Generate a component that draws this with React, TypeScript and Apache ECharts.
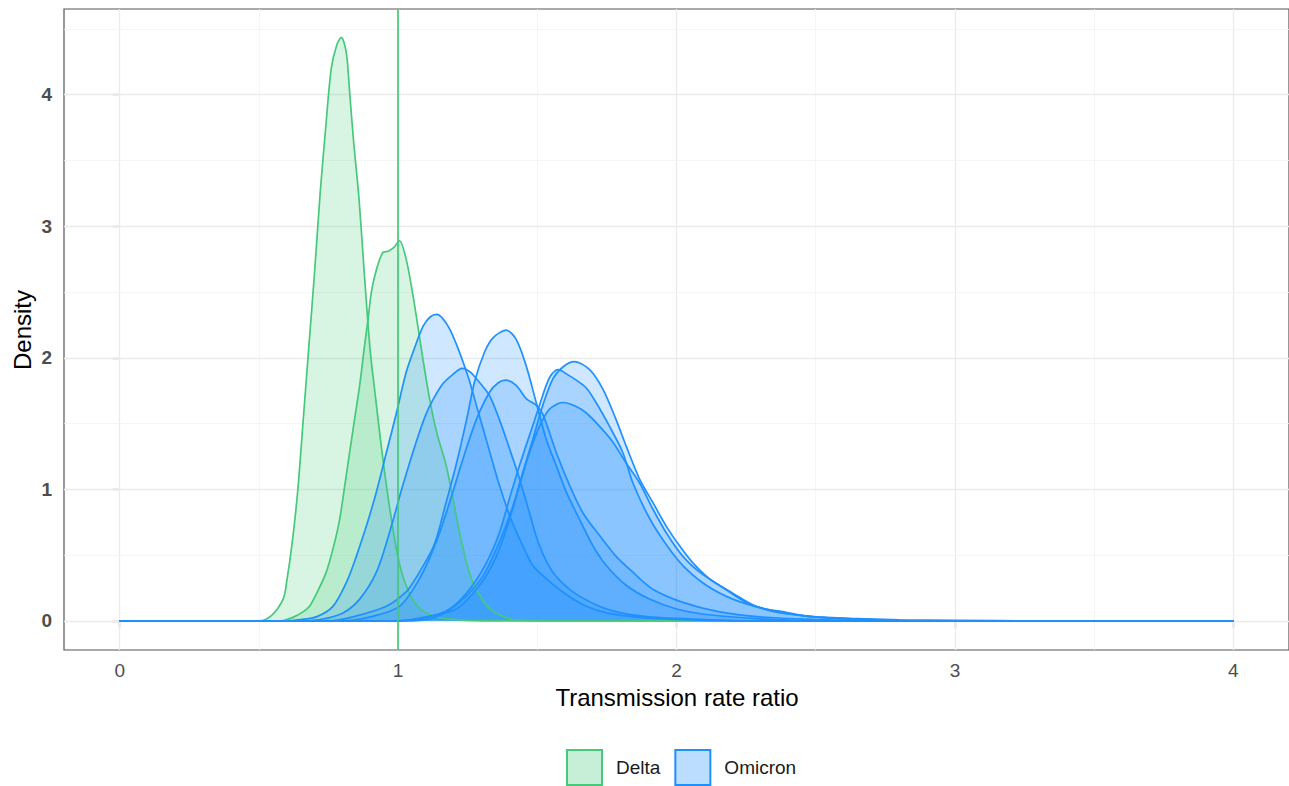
import React, { useEffect, useRef } from "react";
import * as echarts from "echarts";

// ---- data (x = transmission rate ratio, y = density) ----
const deltaA: number[][] = [
  [0, 0], [0.5, 0], [0.545, 0.04], [0.587, 0.165], [0.6, 0.3], [0.62, 0.6], [0.64, 1.0], [0.66, 1.55],
  [0.68, 2.1], [0.7, 2.65], [0.72, 3.25], [0.74, 3.75], [0.76, 4.2], [0.78, 4.38], [0.796, 4.436],
  [0.814, 4.32], [0.826, 4.02], [0.84, 3.65], [0.86, 3.2], [0.88, 2.6], [0.9, 2.05], [0.92, 1.68],
  [0.94, 1.32], [0.96, 1.0], [0.98, 0.72], [1.0, 0.48], [1.02, 0.32], [1.05, 0.17], [1.08, 0.09],
  [1.12, 0.04], [1.18, 0.015], [1.3, 0], [4, 0],
];
const deltaB: number[][] = [
  [0, 0], [0.58, 0], [0.622, 0.026], [0.66, 0.07], [0.682, 0.11], [0.71, 0.22], [0.742, 0.37],
  [0.77, 0.58], [0.79, 0.77], [0.81, 1.05], [0.826, 1.28], [0.845, 1.55], [0.862, 1.79], [0.88, 2.1],
  [0.892, 2.29], [0.904, 2.5], [0.922, 2.67], [0.945, 2.8], [0.964, 2.81], [0.985, 2.84], [1.005, 2.89],
  [1.029, 2.75], [1.053, 2.48], [1.071, 2.24], [1.09, 1.98], [1.113, 1.69], [1.14, 1.42], [1.173, 1.18],
  [1.221, 0.67], [1.245, 0.45], [1.269, 0.29], [1.3, 0.17], [1.33, 0.09], [1.37, 0.04], [1.41, 0.01],
  [1.5, 0], [4, 0],
];
const omicron1: number[][] = [
  [0, 0], [0.6, 0], [0.65, 0.01], [0.706, 0.03], [0.766, 0.11], [0.814, 0.29], [0.85, 0.49], [0.886, 0.72],
  [0.922, 0.98], [0.958, 1.28], [0.994, 1.58], [1.029, 1.89], [1.06, 2.08], [1.09, 2.24], [1.115, 2.31],
  [1.139, 2.33], [1.16, 2.3], [1.185, 2.22], [1.21, 2.1], [1.233, 1.97], [1.257, 1.82], [1.281, 1.64],
  [1.323, 1.33], [1.364, 1.03], [1.406, 0.77], [1.448, 0.57], [1.484, 0.42], [1.532, 0.32], [1.604, 0.2],
  [1.676, 0.11], [1.75, 0.06], [1.85, 0.03], [2.0, 0.01], [2.2, 0], [4, 0],
];
const omicron2: number[][] = [
  [0, 0], [0.65, 0], [0.72, 0.01], [0.802, 0.06], [0.862, 0.165], [0.922, 0.37], [0.969, 0.67],
  [1.017, 1.03], [1.065, 1.36], [1.1, 1.57], [1.125, 1.68], [1.16, 1.8], [1.195, 1.87], [1.23, 1.92],
  [1.26, 1.89], [1.281, 1.84], [1.305, 1.78], [1.329, 1.71], [1.364, 1.53], [1.4, 1.31], [1.436, 1.08],
  [1.472, 0.82], [1.508, 0.57], [1.556, 0.37], [1.628, 0.22], [1.723, 0.11], [1.8, 0.06], [1.9, 0.03],
  [2.1, 0.01], [2.3, 0], [4, 0],
];
const omicron3: number[][] = [
  [0, 0], [0.75, 0], [0.838, 0.03], [0.958, 0.11], [1.029, 0.22], [1.053, 0.29], [1.077, 0.37],
  [1.13, 0.58], [1.17, 0.88], [1.21, 1.2], [1.245, 1.52], [1.275, 1.82], [1.31, 2.04], [1.34, 2.15],
  [1.388, 2.21], [1.424, 2.14], [1.46, 1.94], [1.496, 1.66], [1.532, 1.38], [1.568, 1.18], [1.604, 0.98],
  [1.652, 0.77], [1.7, 0.57], [1.748, 0.42], [1.819, 0.27], [1.903, 0.165], [2.0, 0.09], [2.1, 0.05],
  [2.3, 0.015], [2.5, 0], [4, 0],
];
const omicron4: number[][] = [
  [0, 0], [0.8, 0], [0.9, 0.03], [1.005, 0.11], [1.077, 0.32], [1.137, 0.6], [1.185, 0.9], [1.233, 1.23],
  [1.281, 1.53], [1.329, 1.74], [1.36, 1.81], [1.386, 1.83], [1.424, 1.79], [1.46, 1.69], [1.496, 1.64],
  [1.52, 1.57], [1.568, 1.28], [1.616, 1.03], [1.664, 0.82], [1.723, 0.65], [1.783, 0.49], [1.843, 0.37],
  [1.915, 0.24], [2.023, 0.14], [2.15, 0.07], [2.3, 0.03], [2.5, 0.01], [2.7, 0], [4, 0],
];
const omicron5: number[][] = [
  [0, 0], [1.0, 0], [1.101, 0.025], [1.185, 0.09], [1.257, 0.24], [1.317, 0.44], [1.364, 0.67],
  [1.4, 0.93], [1.436, 1.18], [1.472, 1.41], [1.508, 1.64], [1.532, 1.79], [1.55, 1.87], [1.575, 1.91],
  [1.61, 1.87], [1.64, 1.83], [1.676, 1.77], [1.711, 1.66], [1.759, 1.48], [1.807, 1.28], [1.843, 1.05],
  [1.903, 0.78], [1.963, 0.58], [2.023, 0.42], [2.107, 0.27], [2.202, 0.165], [2.32, 0.09], [2.45, 0.04],
  [2.6, 0.015], [2.8, 0], [4, 0],
];
const omicron6: number[][] = [
  [0, 0], [1.05, 0], [1.149, 0.04], [1.233, 0.165], [1.305, 0.34], [1.364, 0.6], [1.412, 0.87],
  [1.448, 1.13], [1.484, 1.38], [1.52, 1.64], [1.556, 1.84], [1.592, 1.93], [1.634, 1.97], [1.688, 1.91],
  [1.736, 1.76], [1.783, 1.53], [1.819, 1.33], [1.867, 1.08], [1.915, 0.9], [1.963, 0.72], [2.011, 0.57],
  [2.059, 0.44], [2.118, 0.32], [2.202, 0.21], [2.286, 0.11], [2.394, 0.064], [2.478, 0.033],
  [2.62, 0.018], [2.8, 0.008], [3.0, 0.003], [3.3, 0], [4, 0],
];
const omicron7: number[][] = [
  [0, 0], [1.0, 0], [1.1, 0.03], [1.209, 0.09], [1.293, 0.27], [1.353, 0.49], [1.4, 0.77], [1.436, 1.03],
  [1.472, 1.28], [1.508, 1.48], [1.544, 1.61], [1.592, 1.66], [1.64, 1.63], [1.676, 1.58], [1.723, 1.48],
  [1.771, 1.36], [1.819, 1.2], [1.867, 1.05], [1.915, 0.85], [1.963, 0.67], [2.023, 0.49], [2.083, 0.37],
  [2.154, 0.27], [2.25, 0.14], [2.35, 0.07], [2.5, 0.03], [2.7, 0.01], [2.9, 0], [4, 0],
];

const deltaCurves = [deltaA, deltaB];
const omicronCurves = [omicron1, omicron2, omicron3, omicron4, omicron5, omicron6, omicron7];
const groupNames = ["Delta", "Omicron"];
const xTicks = [0, 1, 2, 3, 4];
const yTicks = [0, 1, 2, 3, 4];
const xMinor = [0.5, 1.5, 2.5, 3.5];
const yMinor = [0.5, 1.5, 2.5, 3.5, 4.5];
const referenceLine = 1;

const FONT = "'Liberation Sans', Arial, Helvetica, sans-serif";
const GREEN = "#45c97b";
const GREEN_FILL = "rgba(69,201,123,0.3)";
const BLUE = "#1e90ff";
const BLUE_FILL = "rgba(30,144,255,0.3)";

export default function App() {
  const ref = useRef<HTMLDivElement>(null);
  useEffect(() => {
    if (!ref.current) return;
    const chart = echarts.init(ref.current, undefined, { renderer: "svg" });

    const curveSeries = (data: number[][], name: string, line: string, fill: string) => ({
      type: "line",
      name,
      data,
      smooth: 0.3,
      showSymbol: false,
      symbol: "none",
      z: 3,
      lineStyle: { color: line, width: 1.7 },
      itemStyle: { color: line },
      areaStyle: { color: fill, origin: "auto" },
      silent: true,
    });

    const gridLines = [
      ...xTicks.map((v) => ({ xAxis: v, lineStyle: { color: "#ebebeb", width: 1.3, type: "solid" } })),
      ...xMinor.map((v) => ({ xAxis: v, lineStyle: { color: "#f2f2f2", width: 0.8, type: "solid" } })),
      ...yTicks.map((v) => ({ yAxis: v, lineStyle: { color: "#ebebeb", width: 1.3, type: "solid" } })),
      ...yMinor.map((v) => ({ yAxis: v, lineStyle: { color: "#f2f2f2", width: 0.8, type: "solid" } })),
    ];

    chart.setOption({
      animation: false,
      backgroundColor: "#ffffff",
      textStyle: { fontFamily: FONT },
      grid: {
        left: 64,
        top: 9,
        width: 1226,
        height: 641,
        show: true,
        backgroundColor: "#ffffff",
        borderColor: "#555555",
        borderWidth: 1.2,
        z: 0,
      },
      xAxis: {
        type: "value",
        min: -0.2,
        max: 4.2,
        axisLine: { show: false },
        splitLine: { show: false },
        axisTick: { show: true, customValues: xTicks, length: 7, lineStyle: { color: "#333333", width: 1.2 } },
        axisLabel: { customValues: xTicks, color: "#4d4d4d", fontSize: 19, margin: 11, fontFamily: FONT },
      },
      yAxis: {
        type: "value",
        min: -0.222,
        max: 4.652,
        axisLine: { show: false },
        splitLine: { show: false },
        axisTick: { show: true, customValues: yTicks, length: 7, lineStyle: { color: "#333333", width: 1.2 } },
        axisLabel: {
          customValues: yTicks,
          color: "#4d4d4d",
          fontSize: 19,
          fontWeight: "bold",
          margin: 12,
          fontFamily: FONT,
        },
      },
      legend: {
        left: 566,
        top: 749,
        icon: "rect",
        itemWidth: 35,
        itemHeight: 35,
        itemGap: 14,
        padding: 0,
        selectedMode: false,
        textStyle: { fontSize: 19, color: "#1a1a1a", fontFamily: FONT, padding: [0, 0, 0, 9] },
        data: [
          { name: groupNames[0], itemStyle: { color: GREEN_FILL, borderColor: GREEN, borderWidth: 2 } },
          { name: groupNames[1], itemStyle: { color: BLUE_FILL, borderColor: BLUE, borderWidth: 2 } },
        ],
      },
      graphic: [
        {
          type: "text",
          x: 22,
          y: 330,
          rotation: Math.PI / 2,
          style: { text: "Density", fontSize: 24, fill: "#000", fontFamily: FONT, align: "center", verticalAlign: "middle" },
        },
        {
          type: "text",
          x: 677,
          y: 697,
          style: {
            text: "Transmission rate ratio",
            fontSize: 24,
            fill: "#000",
            fontFamily: FONT,
            align: "center",
            verticalAlign: "middle",
          },
        },
      ],
      series: [
        {
          type: "line",
          name: "grid",
          data: [],
          z: 1,
          silent: true,
          markLine: {
            z: 1,
            silent: true,
            symbol: ["none", "none"],
            label: { show: false },
            animation: false,
            data: gridLines,
          },
        },
        ...deltaCurves.map((c) => curveSeries(c, groupNames[0], GREEN, GREEN_FILL)),
        ...omicronCurves.map((c) => curveSeries(c, groupNames[1], BLUE, BLUE_FILL)),
        {
          type: "line",
          name: "ref",
          data: [],
          z: 10,
          silent: true,
          markLine: {
            z: 10,
            silent: true,
            symbol: ["none", "none"],
            label: { show: false },
            animation: false,
            lineStyle: { color: GREEN, width: 1.7, type: "solid" },
            data: [{ xAxis: referenceLine }],
          },
        },
      ],
    });
    return () => chart.dispose();
  }, []);
  return <div ref={ref} style={{ position: "fixed", left: 0, top: 0, width: 1289, height: 786 }} />;
}
